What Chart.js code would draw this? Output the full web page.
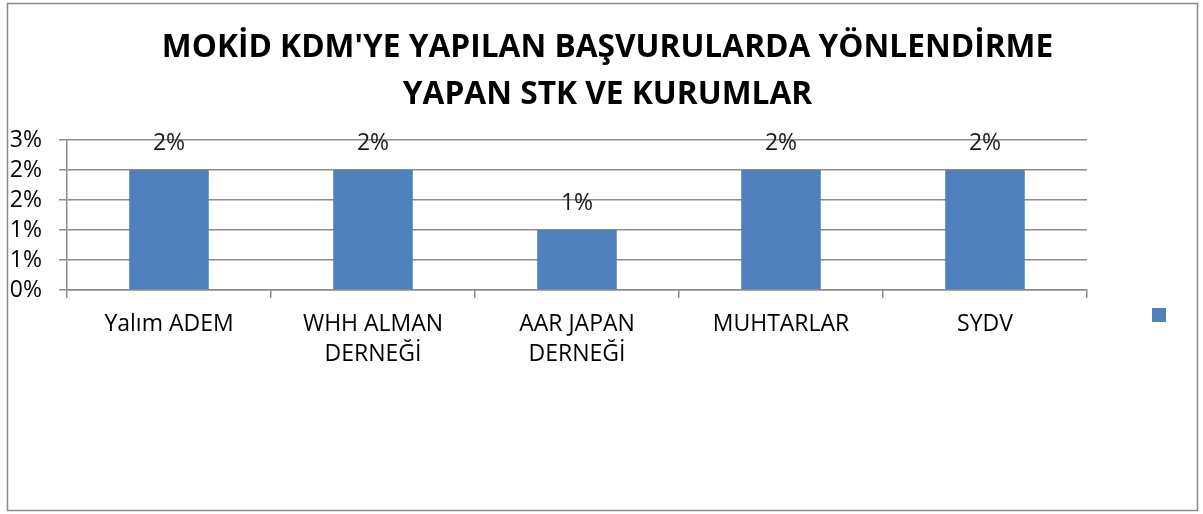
<!DOCTYPE html>
<html lang="tr">
<head>
    <meta charset="UTF-8">
    <title>MOKİD KDM Başvurular</title>
    <script src="https://cdn.jsdelivr.net/npm/chart.js"></script>
    <style>
        html, body {
            margin: 0;
            padding: 0;
            background: #ffffff;
        }

        .chart-box {
            position: relative;
            width: 1203px;
            height: 514px;
        }
    </style>
</head>
<body>
    <div class="chart-box">
        <canvas id="chart"></canvas>
    </div>

    <script>
        // data (values in percent)
        const categories = ['Yalım ADEM', ['WHH ALMAN', 'DERNEĞİ'], ['AAR JAPAN', 'DERNEĞİ'], 'MUHTARLAR', 'SYDV'];
        const values = [2, 2, 1, 2, 2];
        const valueLabels = ['2%', '2%', '1%', '2%', '2%'];
        const titleLines = ["MOKİD KDM'YE YAPILAN BAŞVURULARDA YÖNLENDİRME", 'YAPAN STK VE KURUMLAR'];

        const fontFamily = '"Open Sans", "Noto Sans", sans-serif';
        const gridColor = '#8c8c8c';
        const barColor = '#4f81bd';

        // frame, title, value labels and the lone legend marker
        const decorations = {
            id: 'decorations',
            beforeDraw(chart) {
                const ctx = chart.ctx;
                ctx.save();
                ctx.fillStyle = '#ffffff';
                ctx.fillRect(0, 0, chart.width, chart.height);
                ctx.strokeStyle = '#8a8a8a';
                ctx.lineWidth = 1.5;
                ctx.strokeRect(7.5, 3.5, 1190, 507);

                // title, centred on the whole frame (Excel style), slightly condensed
                const cx = chart.width / 2 + 6;
                ctx.fillStyle = '#000000';
                ctx.font = 'bold 33px ' + fontFamily;
                ctx.textAlign = 'center';
                ctx.textBaseline = 'middle';
                titleLines.forEach((line, i) => {
                    ctx.save();
                    ctx.translate(cx, 48 + i * 47);
                    ctx.scale(0.96, 1);
                    ctx.fillText(line, 0, 0);
                    ctx.restore();
                });
                ctx.restore();
            },
            afterDatasetsDraw(chart) {
                const ctx = chart.ctx;
                const meta = chart.getDatasetMeta(0);
                ctx.save();
                ctx.font = '23px ' + fontFamily;
                ctx.fillStyle = '#1a1a1a';
                ctx.textAlign = 'center';
                ctx.textBaseline = 'middle';
                meta.data.forEach((bar, i) => {
                    ctx.fillText(valueLabels[i], bar.x, bar.y - 27);
                });
                // legend marker (series has no name)
                ctx.fillStyle = chart.data.datasets[0].backgroundColor;
                ctx.fillRect(chart.chartArea.right + 65, 308, 14, 14);
                ctx.restore();
            }
        };

        new Chart(document.getElementById('chart'), {
            type: 'bar',
            data: {
                labels: categories,
                datasets: [{
                    label: '',
                    data: values,
                    backgroundColor: barColor,
                    barPercentage: 0.78,
                    categoryPercentage: 0.5
                }]
            },
            options: {
                responsive: true,
                maintainAspectRatio: false,
                animation: false,
                layout: {
                    padding: { left: 7, right: 116, top: 140, bottom: 3 }
                },
                plugins: {
                    legend: { display: false },
                    tooltip: { enabled: false },
                    title: { display: false }
                },
                scales: {
                    x: {
                        grid: {
                            offset: true,
                            drawOnChartArea: false,
                            drawTicks: true,
                            tickLength: 8,
                            color: gridColor,
                            lineWidth: 1.5
                        },
                        border: { color: gridColor, width: 1.5 },
                        ticks: {
                            color: '#000000',
                            font: { family: fontFamily, size: 23, lineHeight: 1.3 },
                            maxRotation: 0,
                            autoSkip: false,
                            padding: 12
                        },
                        afterFit(scale) {
                            scale.height = 514 - 290 - 3;
                        }
                    },
                    y: {
                        min: 0,
                        max: 2.5,
                        grid: {
                            color: gridColor,
                            lineWidth: 1.5,
                            tickLength: 8
                        },
                        border: { color: gridColor, width: 1.5 },
                        ticks: {
                            stepSize: 0.5,
                            autoSkip: false,
                            color: '#000000',
                            font: { family: fontFamily, size: 23 },
                            padding: 17,
                            callback: (v) => Math.round(v) + '%'
                        },
                        afterFit(scale) {
                            scale.width = 60;
                        }
                    }
                }
            },
            plugins: [decorations]
        });
    </script>
</body>
</html>
